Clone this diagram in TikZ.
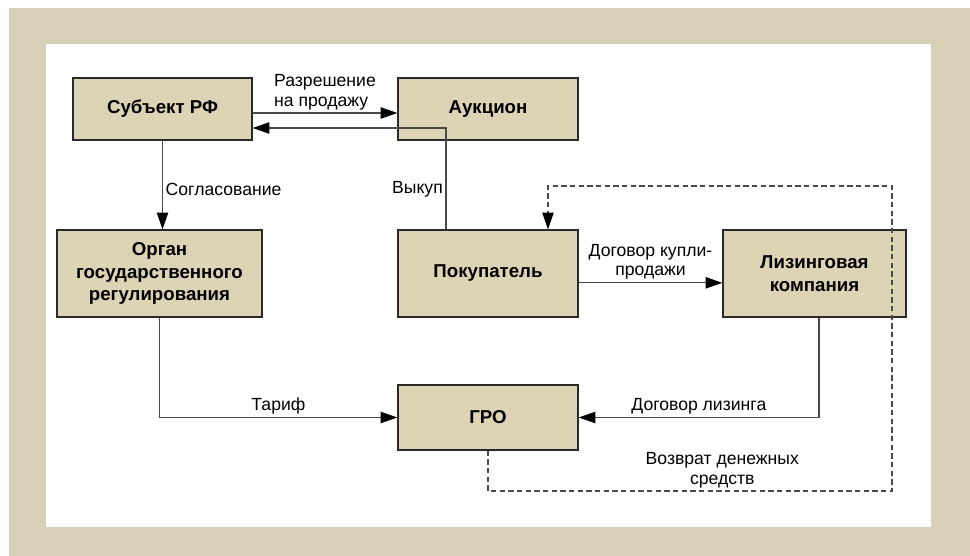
\documentclass[tikz,border=0pt]{standalone}
\usepackage{fontspec}
\setmainfont{Liberation Sans}
\usepackage{tikz}
\usetikzlibrary{arrows.meta,positioning,calc}
\definecolor{frameBeige}{HTML}{D9D0B8}
\definecolor{boxBeige}{HTML}{DDD4B6}
\definecolor{lineGray}{HTML}{4A4A4A}
\definecolor{edgeDark}{HTML}{2A2A2A}

\begin{document}
\begin{tikzpicture}[x=0.75pt, y=-0.75pt,
        block/.style={draw=edgeDark, line width=1pt, fill=boxBeige, minimum width=135pt, minimum height=65.25pt, align=center, inner sep=2pt, font=\fontsize{14}{17}\selectfont\bfseries},
        lbl/.style={inner sep=2pt, font=\fontsize{13.2}{14.5}\selectfont},
        arrow/.style={-{Triangle[length=12.5pt, width=8.5pt, color=black]}, draw=lineGray, line width=0.85pt},
        retline/.style={arrow, dash pattern=on 4pt off 2.5pt}
    ]
        % frame
        \useasboundingbox (0,0) rectangle (970,556);
        \fill[frameBeige] (9,8) rectangle (970,556);
        \fill[white] (46,44) rectangle (931,527);

        \node[block, minimum width=134.25pt, minimum height=46.5pt] (subj) at (162.5,109) {Субъект РФ};
        \node[block, minimum height=46.5pt] (auc) at (488,109) {Аукцион};
        \node[block, minimum width=153.75pt] (organ) at (159.5,273.5) {Орган\\государственного\\регулирования};
        \node[block] (buyer) at (488,273.5) {Покупатель};
        \node[block, minimum width=137.25pt] (lease) at (814.5,273.5) {Лизинговая\\компания};
        \node[block, minimum height=48.75pt] (gro) at (488,417.5) {ГРО};

        \coordinate (retA) at (892,491);
        \coordinate (retB) at (892,186);

        \draw[arrow] ([yshift=-3pt]subj.east) -- ([yshift=-3pt]auc.west)
            node[lbl, midway, above, align=left] {Разрешение\\на продажу};
        \draw[arrow] ([xshift=-31.5pt]buyer.north) |- ([yshift=-14.25pt]subj.east)
            node[lbl, pos=0.2, left] {Выкуп};
        \draw[arrow] (subj.south) -- (subj.south |- organ.north)
            node[lbl, pos=0.55, right] {Согласование};
        \draw[arrow] ([yshift=-7pt]buyer.east) -- ([yshift=-7pt]lease.west)
            node[lbl, midway, above, align=center] {Договор купли-\\продажи};
        \draw[arrow] (organ.south) |- (gro.west)
            node[lbl, pos=0.75, above] {Тариф};
        \draw[arrow] ([xshift=3.4pt]lease.south) |- (gro.east)
            node[lbl, pos=0.75, above] {Договор лизинга};
        \draw[retline] (gro.south) |- (retA)
            node[lbl, pos=0.79, above, align=center] {Возврат денежных\\средств}
            -- (retB) -| ([xshift=45pt]buyer.north);
    \end{tikzpicture}
\end{document}
